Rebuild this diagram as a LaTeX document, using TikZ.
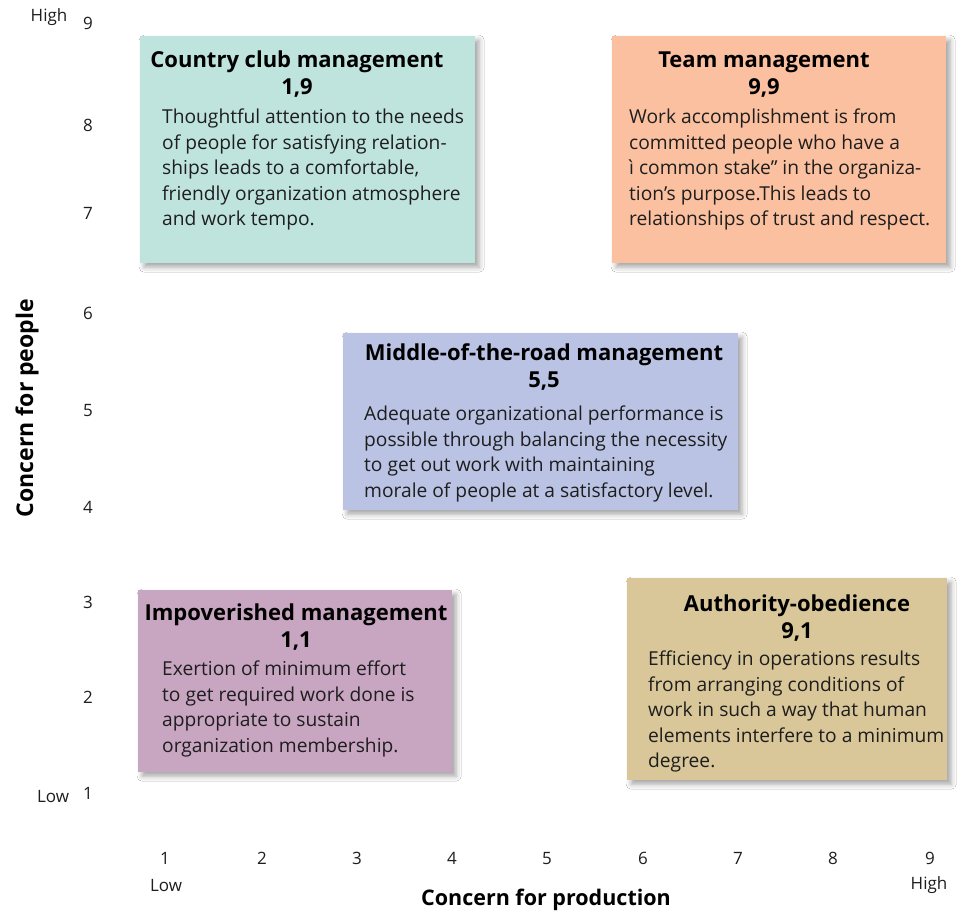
\documentclass[tikz,border=0pt]{standalone}
\usepackage{fontspec}
\setmainfont{Open Sans}
\usetikzlibrary{shadows.blur}
\definecolor{cteal}{RGB}{191,228,221}
\definecolor{cpeach}{RGB}{251,192,159}
\definecolor{clav}{RGB}{186,195,228}
\definecolor{cmauve}{RGB}{200,165,193}
\definecolor{ctan}{RGB}{217,199,153}
\definecolor{ctext}{RGB}{30,30,30}
\begin{document}
\begin{tikzpicture}[x=1pt,y=-1pt,
  box/.style={draw=none, inner sep=0pt, anchor=north west,
    blur shadow={shadow xshift=4pt, shadow yshift=-4pt, shadow blur radius=5pt, shadow opacity=35}},
  ttl/.style={font=\fontsize{22}{27}\selectfont\bfseries, align=center, inner sep=0pt, text=black},
  body/.style={font=\fontsize{19.2}{25.5}\selectfont, align=left, inner sep=0pt, anchor=north west, text=ctext},
  tick/.style={font=\fontsize{17}{20}\selectfont, inner sep=0pt, text=ctext},
  axl/.style={font=\fontsize{21.5}{24}\selectfont\bfseries, inner sep=0pt, text=black}]
\useasboundingbox (0,0) rectangle (961,914);
\fill[white] (0,0) rectangle (961,914);

% boxes
\node[box, fill=cteal,  minimum width=335pt, minimum height=227pt] (b19) at (140,36) {};
\node[box, fill=cpeach, minimum width=334pt, minimum height=227pt] (b99) at (612,36) {};
\node[box, fill=clav,   minimum width=395pt, minimum height=177pt] (b55) at (343,333) {};
\node[box, fill=cmauve, minimum width=314pt, minimum height=182pt] (b11) at (138,590) {};
\node[box, fill=ctan,   minimum width=320pt, minimum height=202pt] (b91) at (627,578) {};

% titles
\node[ttl] (t19) at (297,74.5) {Country club management\\1,9};
\node[ttl] (t99) at (764,74.5) {Team management\\9,9};
\node[ttl] (t55) at (544,366.5) {Middle-of-the-road management\\5,5};
\node[ttl] (t11) at (296,627) {Impoverished management\\1,1};
\node[ttl] (t91) at (797,618) {Authority-obedience\\9,1};

% bodies
\node[body] (d19) at (162,109) {Thoughtful attention to the needs\\of people for satisfying relation-\\ships leads to a comfortable,\\friendly organization atmosphere\\and work tempo.};
\node[body] (d99) at (629,109) {Work accomplishment is from\\committed people who have a\\ì common stake” in the organiza-\\tion's purpose.This leads to\\relationships of trust and respect.};
\node[body] (d55) at (364,406) {Adequate organizational performance is\\possible through balancing the necessity\\to get out work with maintaining\\morale of people at a satisfactory level.};
\node[body] (d11) at (162,661) {Exertion of minimum effort\\to get required work done is\\appropriate to sustain\\organization membership.};
\node[body] (d91) at (648,651) {Efficiency in operations results\\from arranging conditions of\\work in such a way that human\\elements interfere to a minimum\\degree.};

% y axis
\node[tick] (y9) at (88,23) {9};
\node[tick] (y8) at (88,125) {8};
\node[tick] (y7) at (88,213) {7};
\node[tick] (y6) at (88,313) {6};
\node[tick] (y5) at (88,411) {5};
\node[tick] (y4) at (88,507) {4};
\node[tick] (y3) at (88,602) {3};
\node[tick] (y2) at (88,697) {2};
\node[tick] (y1) at (88,793) {1};
\node[tick] (yhigh) at (49,17) {High};
\node[tick] (ylow) at (53,797) {Low};
\node[axl, rotate=90, font=\fontsize{23}{26}\selectfont\bfseries] (ylab) at (27,408) {Concern for people};

% x axis
\node[tick] (x1) at (165,858) {1};
\node[tick] (x2) at (262,858) {2};
\node[tick] (x3) at (357,858) {3};
\node[tick] (x4) at (452,858) {4};
\node[tick] (x5) at (547,858) {5};
\node[tick] (x6) at (643,858) {6};
\node[tick] (x7) at (738,858) {7};
\node[tick] (x8) at (833,858) {8};
\node[tick] (x9) at (930,858) {9};
\node[tick] (xlow) at (166,885) {Low};
\node[tick] (xhigh) at (929,885) {High};
\node[axl] (xlab) at (546,900) {Concern for production};
\end{tikzpicture}
\end{document}
